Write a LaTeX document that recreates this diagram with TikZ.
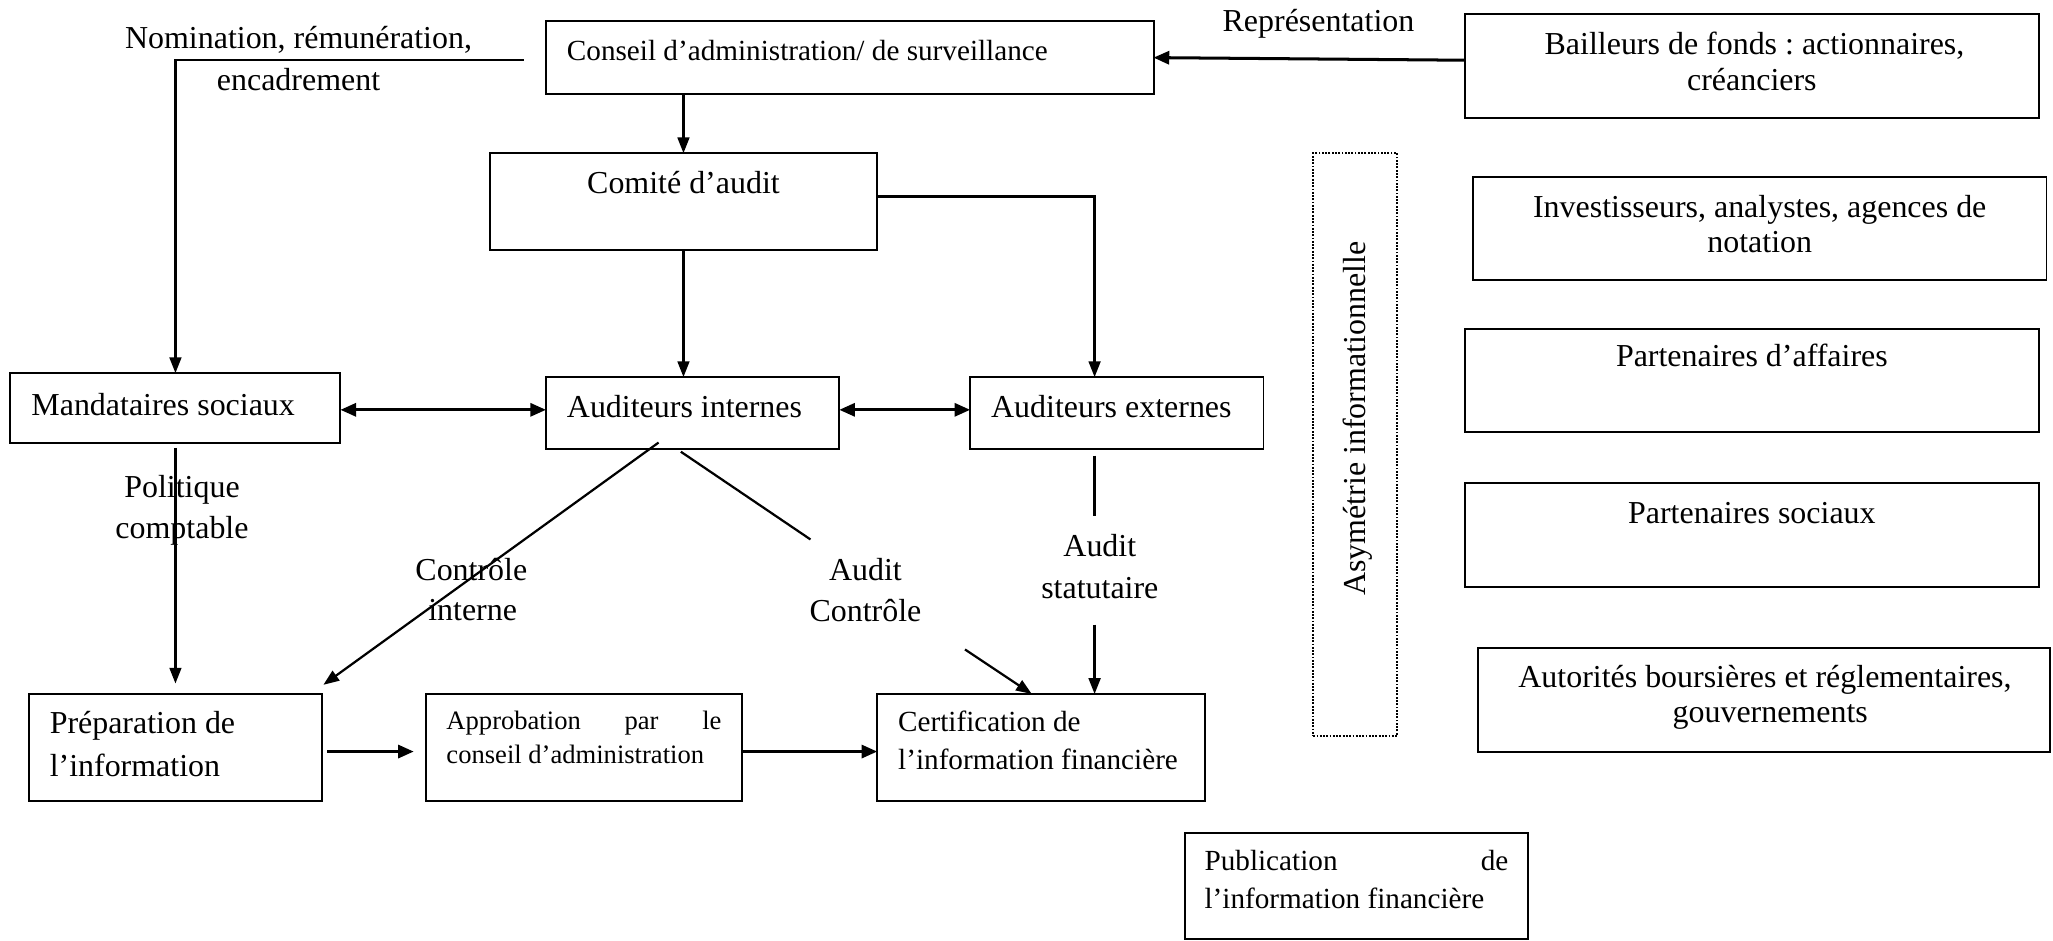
\documentclass[tikz,border=0pt]{standalone}
\usepackage{fontspec}
\setmainfont{Liberation Serif}
\usetikzlibrary{arrows.meta}
\frenchspacing

\begin{document}
\begin{tikzpicture}[x=1pt,y=-1pt,
  box/.style={draw, line width=1.5pt, inner sep=0pt, outer sep=0pt, anchor=north west},
  dotbox/.style={draw, line width=1.6pt, dash pattern=on 1.4pt off 1.1pt, inner sep=0pt, outer sep=0pt, anchor=north west},
  txt/.style={inner sep=0pt, outer sep=0pt, font=\fontsize{24.4}{30}\selectfont},
  txtm/.style={inner sep=0pt, outer sep=0pt, font=\fontsize{22.3}{28}\selectfont},
  txts/.style={inner sep=0pt, outer sep=0pt, font=\fontsize{20.3}{26}\selectfont},
  link/.style={line width=1.7pt},
  arr/.style={line width=1.7pt, -{Triangle[length=12pt,width=9pt]}},
  arrT/.style={line width=2.3pt, -{Triangle[length=12pt,width=10pt]}},
  darrT/.style={line width=2.3pt, {Triangle[length=12pt,width=10pt]}-{Triangle[length=12pt,width=10pt]}}
]
\useasboundingbox (0,0) rectangle (1568,718);

% ---- boxes of the governance chain ----
\node[box, minimum width=464pt, minimum height=56pt] (conseil)  at (417,16)  {};
\node[box, minimum width=296pt, minimum height=74pt] (comite)   at (374,117) {};
\node[box, minimum width=252pt, minimum height=53pt] (mandat)   at (8,285)   {};
\node[box, minimum width=224pt, minimum height=55pt] (internes) at (417,288) {};
\node[box, minimum width=224pt, minimum height=55pt] (externes) at (741,288) {};
\node[box, minimum width=224pt, minimum height=82pt] (prep)     at (22,530)  {};
\node[box, minimum width=242pt, minimum height=82pt] (approb)   at (325,530) {};
\node[box, minimum width=250pt, minimum height=82pt] (certif)   at (670,530) {};
\node[box, minimum width=262pt, minimum height=81pt] (pub)      at (905,636) {};

% ---- information asymmetry band ----
\node[dotbox, minimum width=64pt, minimum height=445pt] (asymbox) at (1003,117) {};

% ---- stakeholder boxes ----
\node[box, minimum width=438pt, minimum height=79pt] (bailleurs) at (1119,11)  {};
\node[box, minimum width=438pt, minimum height=79pt] (invest)    at (1125,135) {};
\node[box, minimum width=438pt, minimum height=79pt] (partaff)   at (1119,251) {};
\node[box, minimum width=438pt, minimum height=79pt] (partsoc)   at (1119,369) {};
\node[box, minimum width=437pt, minimum height=79pt] (autor)     at (1129,495) {};

% ---- texts inside boxes ----
\node[txtm, anchor=base west] (tconseil) at (433,46) {Conseil d’administration/ de surveillance};
\node[txt, anchor=base] (tcomite) at (522,148) {Comité d’audit};
\node[txt, anchor=base west] (tmandat) at (24,317) {Mandataires sociaux};
\node[txt, anchor=base west] (tinternes) at (433,318.5) {Auditeurs internes};
\node[txt, anchor=base west] (texternes) at (757,318.5) {Auditeurs externes};
\node[txt, anchor=base west] (tprepA) at (38,560) {Préparation de};
\node[txt, anchor=base west] (tprepB) at (38,593) {l’information};
\node[txts, anchor=base west] (tapprobA) at (341,557) {\hbox to 210pt{Approbation\hfill par\hfill le}};
\node[txts, anchor=base west] (tapprobB) at (341,583) {conseil d’administration};
\node[txtm, anchor=base west] (tcertifA) at (686,559) {Certification de};
\node[txtm, anchor=base west] (tcertifB) at (686,588) {l’information financière};
\node[txtm, anchor=base west] (tpubA) at (920,664.5) {\hbox to 232pt{Publication\hfill de}};
\node[txtm, anchor=base west] (tpubB) at (920,694) {l’information financière};

\node[txt, anchor=base] (tbailA) at (1340,42) {Bailleurs de fonds : actionnaires,};
\node[txt, anchor=base] (tbailB) at (1338,69) {créanciers};
\node[txt, anchor=base] (tinvA) at (1344,166) {Investisseurs, analystes, agences de};
\node[txt, anchor=base] (tinvB) at (1344,193) {notation};
\node[txt, anchor=base] (tpaff) at (1338,280) {Partenaires d’affaires};
\node[txt, anchor=base] (tpsoc) at (1338,400) {Partenaires sociaux};
\node[txt, anchor=base] (tautA) at (1348,525) {Autorités boursières et réglementaires,};
\node[txt, anchor=base] (tautB) at (1352,552) {gouvernements};
\node[txt, anchor=base west, rotate=90] (tasym) at (1043,455) {Asymétrie informationnelle};

% ---- connector labels ----
\node[txt, anchor=base] (lnomA) at (228,37) {Nomination, rémunération,};
\node[txt, anchor=base] (lnomB) at (228,69) {encadrement};
\node[txt, anchor=base] (lrep) at (1007,24) {Représentation};
\node[txt, anchor=base] (lpolA) at (139,380) {Politique};
\node[txt, anchor=base] (lpolB) at (139,411) {comptable};
\node[txt, anchor=base] (lciA) at (360,443) {Contrôle};
\node[txt, anchor=base] (lciB) at (361,474) {interne};
\node[txt, anchor=base] (lacA) at (661,443) {Audit};
\node[txt, anchor=base] (lacB) at (661,475) {Contrôle};
\node[txt, anchor=base] (lasA) at (840,425) {Audit};
\node[txt, anchor=base] (lasB) at (840,457) {statutaire};

% ---- free ends of connectors ----
\coordinate (nomStart) at (400,46);
\coordinate (acA) at (619,412);
\coordinate (acB) at (737,496);
\coordinate (asA) at (836,394);
\coordinate (asB) at (836,477);

% ---- connectors ----
\draw[arr] (nomStart) -| (mandat.north);
\draw[arr] (comite.north |- conseil.south) -- (comite.north);
\draw[arr] (comite.south) -- (comite.south |- internes.north);
\draw[arr] ([yshift=4pt]comite.east) -| ([xshift=-17pt]externes.north);
\draw[darrT] ([yshift=-1.5pt]mandat.east) -- ([yshift=-1.5pt]mandat.east -| internes.west);
\draw[darrT] ([yshift=2.5pt]internes.east) -- ([yshift=2.5pt]externes.west);
\draw[arr, shorten >=8pt] ([yshift=-4pt]mandat.south) -- (mandat.south |- prep.north);
\draw[arr] ([xshift=-26pt,yshift=5pt]internes.south) -- ([xshift=1pt,yshift=7pt]prep.north east);
\draw[link] ([xshift=-9pt,yshift=-2pt]internes.south) -- (acA);
\draw[arr] (acB) -- ([xshift=-7pt]certif.north);
\draw[link] ([xshift=-17pt,yshift=-5pt]externes.south) -- (asA);
\draw[arr] (asB) -- (asB |- certif.north);
\draw[arrT] ([xshift=4pt,yshift=-3pt]prep.east) -- ([xshift=-9pt,yshift=-3pt]approb.west);
\draw[arrT] ([yshift=-3pt]approb.east) -- ([yshift=-3pt]certif.west);
\draw[arrT] ([yshift=4.5pt]bailleurs.west) -- (conseil.east);
\end{tikzpicture}
\end{document}
